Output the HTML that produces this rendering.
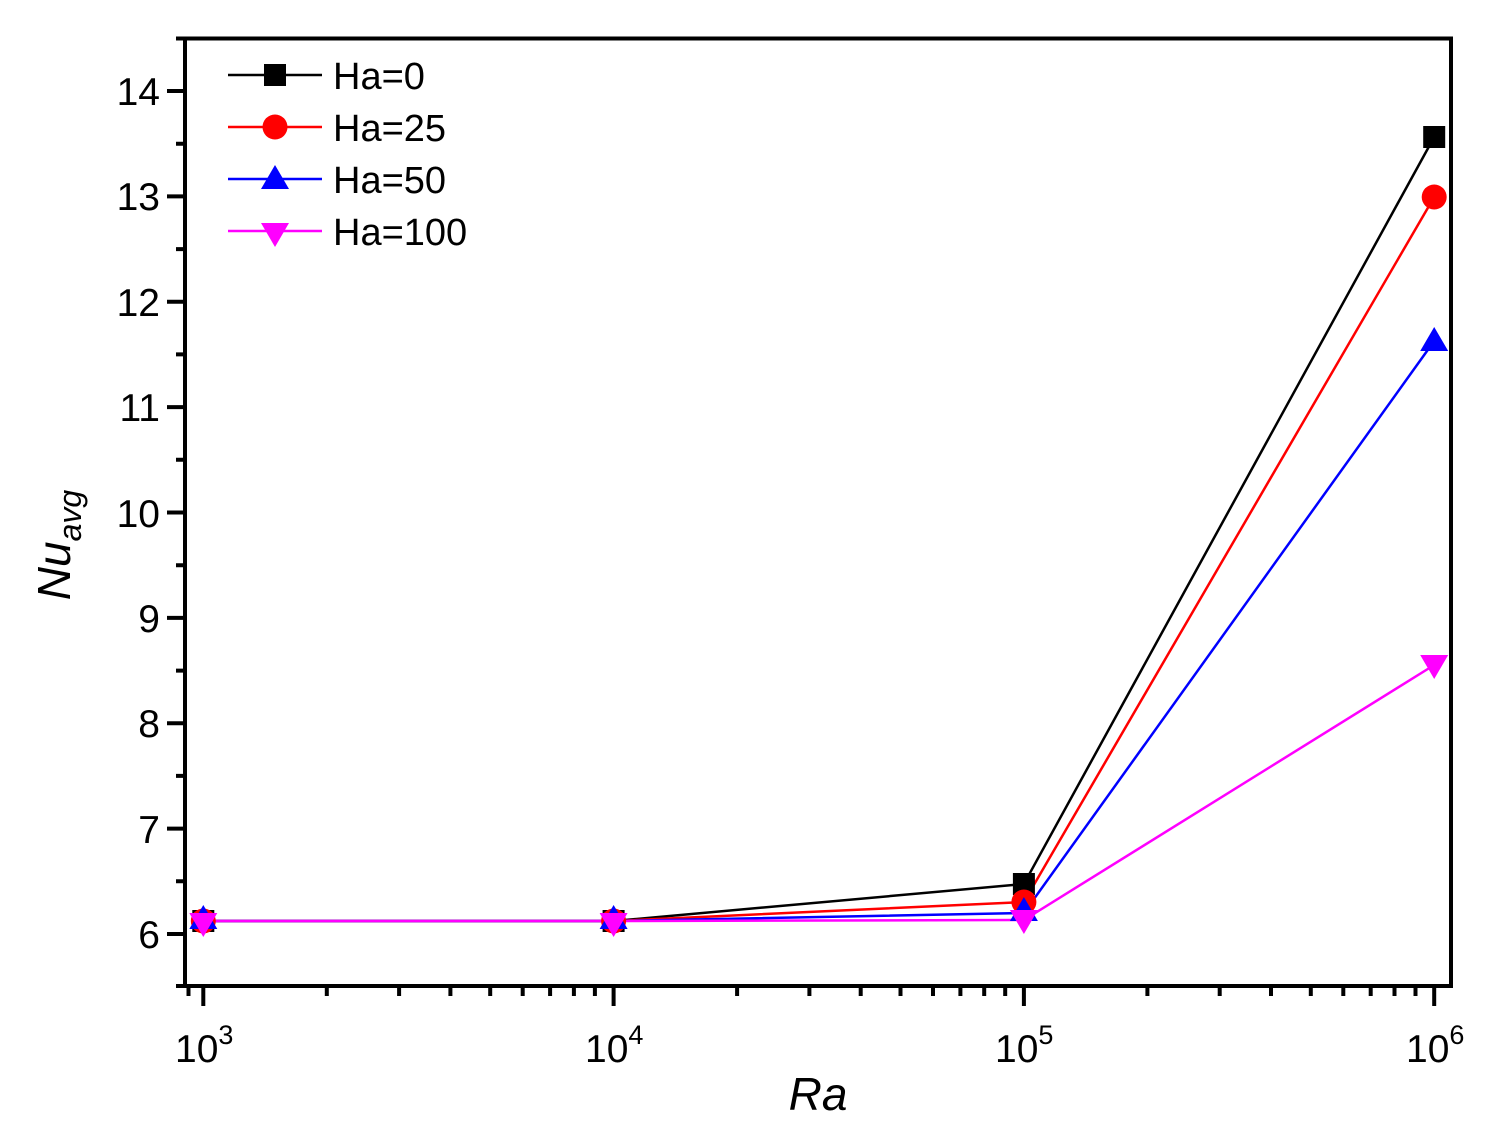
<!DOCTYPE html>
<html><head><meta charset="utf-8"><style>body{margin:0;background:#fff}svg{display:block}</style></head><body>
<svg width="1502" height="1144" viewBox="0 0 1502 1144" xmlns="http://www.w3.org/2000/svg" font-family="Liberation Sans, Arial, sans-serif">
<rect width="1502" height="1144" fill="#fff"/>
<g stroke="#000" stroke-width="4" fill="none">
<rect x="185" y="38.5" width="1266" height="947.5"/>
<path d="M185 934h-18M185 828.6h-18M185 723.3h-18M185 617.9h-18M185 512.5h-18M185 407.1h-18M185 301.8h-18M185 196.4h-18M185 91h-18"/>
<path d="M185 986h-9M185 881.3h-9M185 775.9h-9M185 670.6h-9M185 565.2h-9M185 459.8h-9M185 354.4h-9M185 249.1h-9M185 143.7h-9M185 38.5h-9"/>
<path d="M203.3 986v20M613.6 986v20M1023.9 986v20M1434.2 986v20"/>
<path d="M188.5 986v10"/>
<path id="mt" d="M326.8 986v10M399.1 986v10M450.4 986v10M490.2 986v10M522.7 986v10M550.1 986v10M573.9 986v10M594.9 986v10"/>
<use href="#mt" transform="translate(410.3,0)"/>
<use href="#mt" transform="translate(820.6,0)"/>
</g>
<g font-size="39" text-anchor="end" fill="#000">
<text x="160" y="948">6</text><text x="160" y="843">7</text><text x="160" y="737">8</text><text x="160" y="632">9</text><text x="160" y="527">10</text><text x="160" y="421">11</text><text x="160" y="316">12</text><text x="160" y="210">13</text><text x="160" y="105">14</text>
</g>
<g font-size="39" fill="#000">
<text x="175" y="1062">10<tspan font-size="27" dy="-18">3</tspan></text>
<text x="585" y="1062">10<tspan font-size="27" dy="-18">4</tspan></text>
<text x="995" y="1062">10<tspan font-size="27" dy="-18">5</tspan></text>
<text x="1406" y="1062">10<tspan font-size="27" dy="-18">6</tspan></text>
</g>
<text x="818" y="1110" font-size="46" font-style="italic" text-anchor="middle">Ra</text>
<text transform="translate(70,545) rotate(-90)" font-size="46" font-style="italic" text-anchor="middle">Nu<tspan font-size="32" dy="11">avg</tspan></text>
<g fill="none" stroke-width="2.5">
<polyline stroke="#000" points="203.3,921 613.6,921 1023.9,884 1434.2,137"/>
<polyline stroke="#f00" points="203.3,921 613.6,921 1023.9,902 1434.2,197"/>
<polyline stroke="#00f" points="203.3,921 613.6,921 1023.9,913 1434.2,341"/>
<polyline stroke="#f0f" points="203.3,921 613.6,921 1023.9,920 1434.2,665"/>
</g>
<defs>
<rect id="sq" x="-11" y="-11" width="22" height="22" fill="#000"/>
<circle id="ci" r="12.5" fill="#f00"/>
<path id="tu" d="M0 -14L14 10H-14Z" fill="#00f"/>
<path id="td" d="M0 14L14 -10H-14Z" fill="#f0f"/>
</defs>
<use href="#sq" x="203.3" y="921"/><use href="#sq" x="613.6" y="921"/><use href="#sq" x="1023.9" y="884"/><use href="#sq" x="1434.2" y="137"/>
<use href="#ci" x="203.3" y="921"/><use href="#ci" x="613.6" y="921"/><use href="#ci" x="1023.9" y="902"/><use href="#ci" x="1434.2" y="197"/>
<use href="#tu" x="203.3" y="919"/><use href="#tu" x="613.6" y="919"/><use href="#tu" x="1023.9" y="911"/><use href="#tu" x="1434.2" y="341"/>
<use href="#td" x="203.3" y="923"/><use href="#td" x="613.6" y="923"/><use href="#td" x="1023.9" y="920"/><use href="#td" x="1434.2" y="665"/>
<g stroke-width="2.5">
<path d="M228 75h94" stroke="#000"/><path d="M228 127h94" stroke="#f00"/><path d="M228 179h94" stroke="#00f"/><path d="M228 231h94" stroke="#f0f"/>
</g>
<use href="#sq" x="275" y="75"/><use href="#ci" x="275" y="127"/><use href="#tu" x="275" y="179"/><use href="#td" x="275" y="233"/>
<g font-size="38" fill="#000">
<text x="333" y="89">Ha=0</text><text x="333" y="141">Ha=25</text><text x="333" y="193">Ha=50</text><text x="333" y="245">Ha=100</text>
</g>
</svg>
</body></html>
